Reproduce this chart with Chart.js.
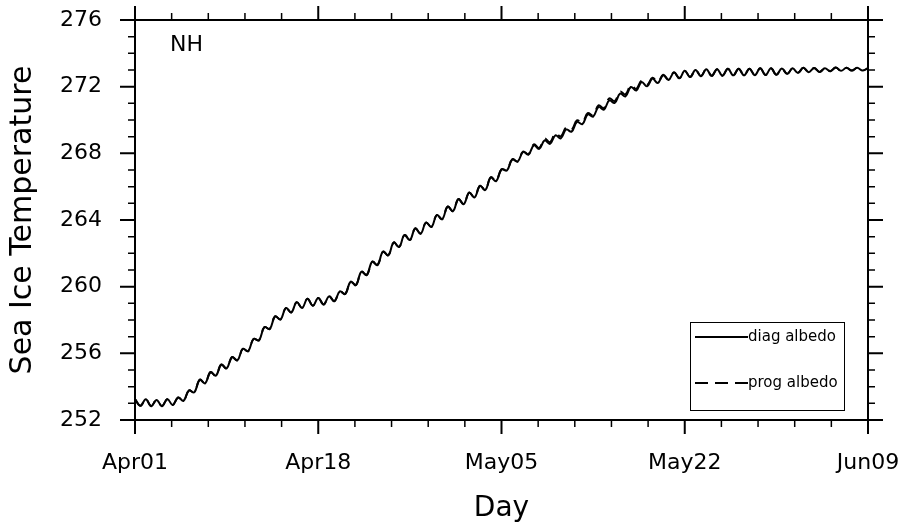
<!DOCTYPE html>
<html lang="en">
<head>
  <meta charset="UTF-8" />
  <title>Sea Ice Temperature NH</title>
  <script src="https://cdn.jsdelivr.net/npm/chart.js"></script>
  <style>
    body {
      margin: 0;
      background: #ffffff;
    }
    #tempChart {
      display: block;
    }
  </style>
</head>
<body>
  <canvas id="tempChart" width="902" height="526"></canvas>

  <script>
    // x axis: day index since Apr01, one value every half day
    const dayTicks = [0, 17, 34, 51, 68];
    const dayLabels = ["Apr01", "Apr18", "May05", "May22", "Jun09"];
    const tempTicks = [252, 256, 260, 264, 268, 272, 276];
    const stepDays = 0.5;

    const diagAlbedo = [
      253.25, 252.85, 253.25, 252.83, 253.20, 252.83, 253.25, 252.90, 253.35, 253.15,
      253.77, 253.66, 254.42, 254.20, 254.87, 254.66, 255.32, 255.10, 255.77, 255.58,
      256.27, 256.13, 256.87, 256.78, 257.57, 257.46, 258.22, 258.03, 258.72, 258.46,
      259.07, 258.73, 259.27, 258.86, 259.32, 258.93, 259.42, 259.13, 259.72, 259.56,
      260.30, 260.10, 260.90, 260.70, 261.50, 261.30, 262.10, 261.88, 262.65, 262.38,
      263.10, 262.80, 263.50, 263.18, 263.85, 263.58, 264.30, 264.05, 264.80, 264.53,
      265.25, 264.95, 265.65, 265.35, 266.05, 265.80, 266.55, 266.33, 267.03, 266.97,
      267.63, 267.50, 268.08, 267.92, 268.48, 268.27, 268.78, 268.57, 269.08, 268.90,
      269.43, 269.30, 269.88, 269.75, 270.33, 270.20, 270.78, 270.62, 271.18, 271.02,
      271.58, 271.42, 271.98, 271.77, 272.28, 272.02, 272.48, 272.22, 272.68, 272.40,
      272.85, 272.50, 272.95, 272.58, 273.00, 272.63, 273.05, 272.65, 273.05, 272.66,
      273.08, 272.68, 273.08, 272.68, 273.08, 272.69, 273.10, 272.70, 273.10, 272.71,
      273.09, 272.77, 273.10, 272.83, 273.13, 272.87, 273.12, 272.88, 273.10, 272.93,
      273.15, 272.95, 273.13, 272.97, 273.13, 272.97, 273.11
    ];

    const progAlbedo = [
      253.25, 252.85, 253.25, 252.83, 253.20, 252.83, 253.25, 252.90, 253.35, 253.15,
      253.77, 253.66, 254.42, 254.20, 254.87, 254.66, 255.32, 255.10, 255.77, 255.58,
      256.27, 256.13, 256.87, 256.78, 257.57, 257.46, 258.22, 258.03, 258.72, 258.46,
      259.07, 258.73, 259.27, 258.86, 259.32, 258.93, 259.42, 259.13, 259.72, 259.56,
      260.30, 260.10, 260.90, 260.70, 261.50, 261.30, 262.10, 261.88, 262.65, 262.38,
      263.10, 262.80, 263.50, 263.18, 263.85, 263.58, 264.30, 264.05, 264.80, 264.53,
      265.25, 264.95, 265.65, 265.35, 266.05, 265.80, 266.57, 266.35, 267.05, 266.99,
      267.65, 267.52, 268.11, 267.95, 268.54, 268.33, 268.88, 268.67, 269.20, 269.02,
      269.55, 269.42, 269.98, 269.85, 270.41, 270.28, 270.88, 270.72, 271.30, 271.14,
      271.70, 271.54, 272.08, 271.87, 272.36, 272.10, 272.54, 272.28, 272.72, 272.44,
      272.87, 272.52, 272.95, 272.58, 273.00, 272.63, 273.05, 272.65, 273.05, 272.66,
      273.08, 272.68, 273.08, 272.68, 273.08, 272.69, 273.10, 272.70, 273.10, 272.71,
      273.09, 272.77, 273.10, 272.83, 273.13, 272.87, 273.12, 272.88, 273.10, 272.93,
      273.15, 272.95, 273.13, 272.97, 273.13, 272.97, 273.11
    ];

    const FONT = "'DejaVu Sans', sans-serif";

    function toPoints(values) {
      return values.map((v, i) => ({ x: i * stepDays, y: v }));
    }

    // frame, outward ticks on all four sides, NH tag and the boxed legend
    const framePlugin = {
      id: "frame",
      afterDatasetsDraw(chart) {
        const ctx = chart.ctx;
        const ca = chart.chartArea;
        const xs = chart.scales.x;
        const ys = chart.scales.y;
        ctx.save();
        ctx.strokeStyle = "#000";
        ctx.lineWidth = 2;
        ctx.strokeRect(ca.left, ca.top, ca.right - ca.left, ca.bottom - ca.top);

        function tickX(v, len, w) {
          const px = xs.getPixelForValue(v);
          ctx.lineWidth = w;
          ctx.beginPath();
          ctx.moveTo(px, ca.bottom); ctx.lineTo(px, ca.bottom + len);
          ctx.moveTo(px, ca.top); ctx.lineTo(px, ca.top - len);
          ctx.stroke();
        }
        function tickY(v, len, w) {
          const py = ys.getPixelForValue(v);
          ctx.lineWidth = w;
          ctx.beginPath();
          ctx.moveTo(ca.left, py); ctx.lineTo(ca.left - len, py);
          ctx.moveTo(ca.right, py); ctx.lineTo(ca.right + len, py);
          ctx.stroke();
        }
        for (let i = 0; i < dayTicks.length - 1; i++) {
          const step = (dayTicks[i + 1] - dayTicks[i]) / 5;
          for (let k = 1; k < 5; k++) tickX(dayTicks[i] + k * step, 7, 1.5);
        }
        dayTicks.forEach(v => tickX(v, 14, 2));
        for (let v = tempTicks[0]; v <= tempTicks[tempTicks.length - 1]; v++) {
          if (!tempTicks.includes(v)) tickY(v, 7, 1.5);
        }
        tempTicks.forEach(v => tickY(v, 15, 2));

        ctx.fillStyle = "#000";
        ctx.font = "22px " + FONT;
        ctx.textAlign = "left";
        ctx.textBaseline = "middle";
        ctx.fillText("NH", ca.left + 35, ca.top + 25);

        // legend box
        const bx = ca.right - 178, by = ca.bottom - 98, bw = 154, bh = 88;
        ctx.lineWidth = 1;
        ctx.strokeRect(bx + 0.5, by + 0.5, bw, bh);
        ctx.font = "15px " + FONT;
        chart.data.datasets.forEach((ds, i) => {
          const ly = by + 15 + i * 46;
          ctx.lineWidth = 2;
          ctx.setLineDash(ds.borderDash || []);
          ctx.beginPath();
          ctx.moveTo(bx + 5, ly);
          ctx.lineTo(bx + 58, ly);
          ctx.stroke();
          ctx.setLineDash([]);
          ctx.fillText(ds.label, bx + 58, ly);
        });
        ctx.restore();
      }
    };

    new Chart(document.getElementById("tempChart"), {
      type: "line",
      data: {
        datasets: [{
          label: "diag albedo",
          data: toPoints(diagAlbedo),
          borderColor: "#000",
          borderWidth: 2,
          pointRadius: 0,
          tension: 0.4,
          fill: false
        }, {
          label: "prog albedo",
          data: toPoints(progAlbedo),
          borderColor: "#000",
          borderWidth: 2,
          borderDash: [13, 7],
          pointRadius: 0,
          tension: 0.4,
          fill: false
        }]
      },
      options: {
        responsive: false,
        animation: false,
        devicePixelRatio: 1,
        layout: { padding: { top: 20, right: 34, left: 0, bottom: 0 } },
        plugins: {
          legend: { display: false },
          tooltip: { enabled: false }
        },
        scales: {
          x: {
            type: "linear",
            min: dayTicks[0],
            max: dayTicks[dayTicks.length - 1],
            afterBuildTicks: s => { s.ticks = dayTicks.map(v => ({ value: v })); },
            afterFit: s => { s.height = 106; s.paddingLeft = 0; s.paddingRight = 0; },
            ticks: {
              callback: v => dayLabels[dayTicks.indexOf(v)],
              font: { family: FONT, size: 22 },
              color: "#000",
              padding: 30,
              maxRotation: 0,
              autoSkip: false
            },
            grid: { display: false, drawTicks: false },
            border: { display: false },
            title: {
              display: true,
              text: "Day",
              font: { family: FONT, size: 28 },
              color: "#000",
              padding: { top: 0, bottom: 0 }
            }
          },
          y: {
            min: tempTicks[0],
            max: tempTicks[tempTicks.length - 1],
            afterBuildTicks: s => { s.ticks = tempTicks.map(v => ({ value: v })); },
            afterFit: s => { s.width = 135; s.paddingTop = 0; s.paddingBottom = 0; },
            ticks: {
              font: { family: FONT, size: 22 },
              color: "#000",
              padding: 33
            },
            grid: { display: false, drawTicks: false },
            border: { display: false },
            title: {
              display: true,
              text: "Sea Ice Temperature",
              font: { family: FONT, size: 30 },
              color: "#000",
              padding: { top: 5, bottom: 0 }
            }
          }
        }
      },
      plugins: [framePlugin]
    });
  </script>
</body>
</html>
